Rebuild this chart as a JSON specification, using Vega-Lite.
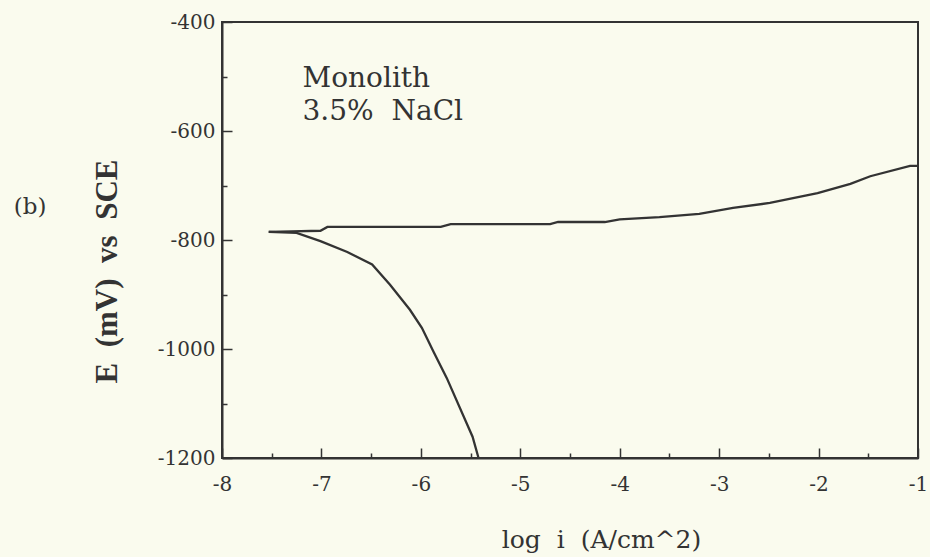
{
  "$schema": "https://vega.github.io/schema/vega-lite/v6.json",
  "width": 696,
  "height": 436,
  "autosize": {"type": "none"},
  "padding": {"left": 222, "top": 22, "right": 12, "bottom": 99},
  "background": "#fafbee",
  "config": {
    "view": {"stroke": "#333", "strokeWidth": 2},
    "font": "DejaVu Serif",
    "axis": {
      "domainColor": "#333",
      "domainWidth": 2,
      "tickColor": "#333",
      "tickWidth": 1.5,
      "grid": false,
      "labelFont": "DejaVu Serif",
      "labelFontSize": 20,
      "labelColor": "#333",
      "titleColor": "#333"
    }
  },
  "layer": [
    {
      "data": {
        "values": [
          {"branch": "anodic", "seq": 1, "logi": -7.53, "E": -785},
          {"branch": "anodic", "seq": 2, "logi": -7.3, "E": -784},
          {"branch": "anodic", "seq": 3, "logi": -7.01, "E": -783},
          {"branch": "anodic", "seq": 4, "logi": -6.94, "E": -776},
          {"branch": "anodic", "seq": 5, "logi": -6.5, "E": -776},
          {"branch": "anodic", "seq": 6, "logi": -6.0, "E": -776},
          {"branch": "anodic", "seq": 7, "logi": -5.8, "E": -776},
          {"branch": "anodic", "seq": 8, "logi": -5.7, "E": -771},
          {"branch": "anodic", "seq": 9, "logi": -5.0, "E": -771},
          {"branch": "anodic", "seq": 10, "logi": -4.7, "E": -771},
          {"branch": "anodic", "seq": 11, "logi": -4.62, "E": -767},
          {"branch": "anodic", "seq": 12, "logi": -4.15, "E": -767},
          {"branch": "anodic", "seq": 13, "logi": -4.0, "E": -762},
          {"branch": "anodic", "seq": 14, "logi": -3.6, "E": -758},
          {"branch": "anodic", "seq": 15, "logi": -3.2, "E": -752},
          {"branch": "anodic", "seq": 16, "logi": -2.86, "E": -741},
          {"branch": "anodic", "seq": 17, "logi": -2.49, "E": -732},
          {"branch": "anodic", "seq": 18, "logi": -2.01, "E": -714},
          {"branch": "anodic", "seq": 19, "logi": -1.68, "E": -697},
          {"branch": "anodic", "seq": 20, "logi": -1.48, "E": -683},
          {"branch": "anodic", "seq": 21, "logi": -1.08, "E": -664},
          {"branch": "anodic", "seq": 22, "logi": -1.0, "E": -664},
          {"branch": "cathodic", "seq": 1, "logi": -7.53, "E": -785},
          {"branch": "cathodic", "seq": 2, "logi": -7.25, "E": -787},
          {"branch": "cathodic", "seq": 3, "logi": -7.01, "E": -802},
          {"branch": "cathodic", "seq": 4, "logi": -6.74, "E": -822},
          {"branch": "cathodic", "seq": 5, "logi": -6.49, "E": -845},
          {"branch": "cathodic", "seq": 6, "logi": -6.31, "E": -882},
          {"branch": "cathodic", "seq": 7, "logi": -6.11, "E": -928},
          {"branch": "cathodic", "seq": 8, "logi": -5.99, "E": -961},
          {"branch": "cathodic", "seq": 9, "logi": -5.87, "E": -1006},
          {"branch": "cathodic", "seq": 10, "logi": -5.74, "E": -1053},
          {"branch": "cathodic", "seq": 11, "logi": -5.48, "E": -1161},
          {"branch": "cathodic", "seq": 12, "logi": -5.42, "E": -1200}
        ]
      },
      "mark": {"type": "line", "color": "#333", "strokeWidth": 2.3},
      "encoding": {
        "x": {
          "field": "logi",
          "type": "quantitative",
          "scale": {"domain": [-8, -1], "nice": false, "zero": false},
          "axis": {
            "values": [-8, -7.5, -7, -6.5, -6, -5.5, -5, -4.5, -4, -3.5, -3, -2.5, -2, -1.5, -1],
            "tickSize": {"condition": {"test": "datum.value % 1 === 0", "value": -10}, "value": -5},
            "labelExpr": "datum.value % 1 === 0 ? '' + datum.value : ''",
            "labelPadding": 26,
            "labelFlush": false,
            "labelOverlap": false,
            "title": "log\u00a0 i\u00a0 (A/cm^2)",
            "titleFont": "DejaVu Serif",
            "titleFontSize": 25,
            "titleFontWeight": "normal",
            "titleX": 379,
            "titleY": 89,
            "titleBaseline": "alphabetic",
            "titleAlign": "center"
          }
        },
        "y": {
          "field": "E",
          "type": "quantitative",
          "scale": {"domain": [-1200, -400], "nice": false, "zero": false},
          "axis": {
            "values": [-1200, -1100, -1000, -900, -800, -700, -600, -500, -400],
            "tickSize": {"condition": {"test": "datum.value % 200 === 0", "value": -10}, "value": -5},
            "labelExpr": "datum.value % 200 === 0 ? '' + datum.value : ''",
            "labelPadding": 17,
            "labelFlush": false,
            "labelOverlap": false,
            "title": "E\u00a0 (mV)\u00a0 vs\u00a0 SCE",
            "titleFont": "Liberation Serif",
            "titleFontSize": 31,
            "titleFontWeight": "bold",
            "titleAngle": 270,
            "titleX": -115,
            "titleY": 249,
            "titleAlign": "center",
            "titleBaseline": "middle"
          }
        },
        "detail": {"field": "branch"},
        "order": {"field": "seq"}
      }
    },
    {
      "data": {"values": [{"line": "Monolith", "E": -519}, {"line": "3.5%\u00a0 NaCl", "E": -580}]},
      "mark": {
        "type": "text",
        "font": "DejaVu Serif",
        "fontSize": 28,
        "color": "#333",
        "align": "left",
        "baseline": "alphabetic"
      },
      "encoding": {
        "x": {"datum": -7.19},
        "y": {"field": "E", "type": "quantitative"},
        "text": {"field": "line"}
      }
    },
    {
      "data": {"values": [{}]},
      "mark": {
        "type": "text",
        "text": "(b)",
        "font": "DejaVu Serif",
        "fontSize": 23,
        "color": "#333",
        "align": "center",
        "baseline": "middle"
      },
      "encoding": {
        "x": {"datum": -9.93},
        "y": {"datum": -739}
      }
    }
  ]
}
